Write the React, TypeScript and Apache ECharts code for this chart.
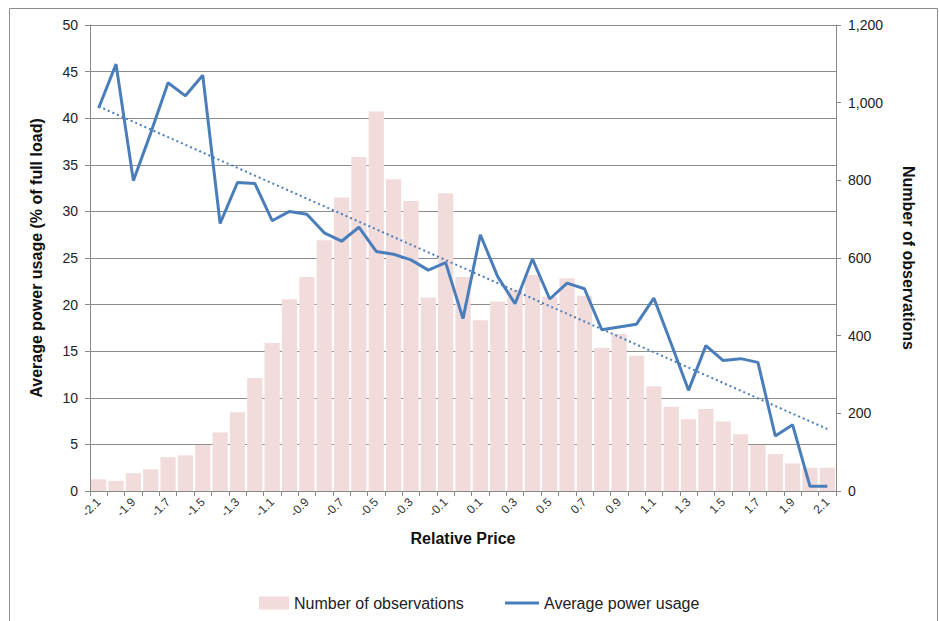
import React, { useEffect, useRef } from "react";
import * as echarts from "echarts";

const categories = [
  "-2.1", "-2.0", "-1.9", "-1.8", "-1.7", "-1.6", "-1.5", "-1.4", "-1.3", "-1.2", "-1.1",
  "-1.0", "-0.9", "-0.8", "-0.7", "-0.6", "-0.5", "-0.4", "-0.3", "-0.2", "-0.1",
  "0.0", "0.1", "0.2", "0.3", "0.4", "0.5", "0.6", "0.7", "0.8", "0.9",
  "1.0", "1.1", "1.2", "1.3", "1.4", "1.5", "1.6", "1.7", "1.8", "1.9", "2.0", "2.1",
];

const observations = [
  30, 26, 46, 56, 87, 92, 118, 151, 203, 291, 381,
  494, 551, 646, 756, 860, 977, 803, 747, 498, 767,
  551, 440, 488, 518, 556, 500, 548, 503, 369, 404,
  348, 270, 217, 185, 211, 179, 146, 118, 95, 71, 60, 60,
];

const powerUsage = [
  41.1, 45.8, 33.3, 38.4, 43.8, 42.4, 44.6, 28.7, 33.1, 33.0, 29.0,
  30.0, 29.7, 27.7, 26.8, 28.3, 25.7, 25.4, 24.8, 23.7, 24.5,
  18.5, 27.5, 23.0, 20.1, 24.9, 20.6, 22.3, 21.7, 17.3, 17.6,
  17.9, 20.7, 15.8, 10.8, 15.6, 14.0, 14.2, 13.8, 5.9, 7.1, 0.5, 0.5,
];

// Linear trendline (least squares), as Excel computes it
function linearTrend(values: number[]): number[] {
  const n = values.length;
  let sx = 0, sy = 0, sxy = 0, sxx = 0;
  values.forEach((v, i) => {
    const x = i + 1;
    sx += x; sy += v; sxy += x * v; sxx += x * x;
  });
  const b = (n * sxy - sx * sy) / (n * sxx - sx * sx);
  const a = (sy - b * sx) / n;
  return values.map((_, i) => +(a + b * (i + 1)).toFixed(3));
}

const FONT = "'Liberation Sans', 'Noto Sans', sans-serif";
const LINE_COLOR = "#4a7ebb";

export default function App() {
  const ref = useRef<HTMLDivElement>(null);
  useEffect(() => {
    document.body.style.margin = "0";
    const chart = echarts.init(ref.current!, null, { renderer: "svg" });
    const trend = linearTrend(powerUsage);
    const legendText = { fontSize: 16, color: "#222", fontFamily: FONT };
    chart.setOption({
      animation: false,
      backgroundColor: "#ffffff",
      textStyle: { fontFamily: FONT },
      graphic: [
        {
          type: "rect",
          shape: { x: 9.5, y: 8.5, width: 928, height: 620 },
          style: { fill: "none", stroke: "#8c8c8c", lineWidth: 1 },
          silent: true,
        },
      ],
      grid: { left: 90, right: 103, top: 25, bottom: 130, containLabel: false },
      legend: [
        {
          left: 254,
          top: 590,
          itemWidth: 30,
          itemHeight: 13,
          textStyle: legendText,
          data: [{ name: "Number of observations", icon: "rect" }],
        },
        {
          left: 500,
          top: 590,
          itemWidth: 34,
          itemHeight: 13,
          textStyle: legendText,
          data: [{ name: "Average power usage", icon: "path://M0,0 L34,0 L34,3 L0,3 Z" }],
        },
      ],
      xAxis: {
        type: "category",
        data: categories,
        name: "Relative Price",
        nameLocation: "middle",
        nameGap: 39,
        nameTextStyle: { fontSize: 16, fontWeight: "bold", color: "#111", fontFamily: FONT },
        axisLine: { lineStyle: { color: "#888", width: 1 } },
        axisTick: { show: true, interval: 0, length: 5, lineStyle: { color: "#888" } },
        axisLabel: {
          interval: 1,
          rotate: 45,
          fontSize: 12,
          color: "#333",
          margin: 9,
          fontFamily: FONT,
        },
      },
      yAxis: [
        {
          type: "value",
          min: 0,
          max: 50,
          interval: 5,
          name: "Average power usage (% of full load)",
          nameLocation: "middle",
          nameRotate: 90,
          nameGap: 46,
          nameTextStyle: { fontSize: 16, fontWeight: "bold", color: "#111", fontFamily: FONT },
          axisLine: { show: true, lineStyle: { color: "#888" } },
          axisTick: { show: true, length: 5, lineStyle: { color: "#888" } },
          axisLabel: { fontSize: 14, color: "#222", margin: 12, fontFamily: FONT },
          splitLine: { show: true, lineStyle: { color: "#8c8c8c", width: 1 } },
        },
        {
          type: "value",
          min: 0,
          max: 1200,
          interval: 200,
          name: "Number of observations",
          nameLocation: "middle",
          nameRotate: -90,
          nameGap: 64,
          nameTextStyle: { fontSize: 16, fontWeight: "bold", color: "#111", fontFamily: FONT },
          axisLine: { show: true, lineStyle: { color: "#888" } },
          axisTick: { show: true, length: 5, lineStyle: { color: "#888" } },
          axisLabel: {
            fontSize: 14,
            color: "#222",
            margin: 12,
            fontFamily: FONT,
            formatter: (v: number) => v.toLocaleString("en-US"),
          },
          splitLine: { show: false },
        },
      ],
      series: [
        {
          name: "Number of observations",
          type: "bar",
          yAxisIndex: 1,
          data: observations,
          barCategoryGap: "12%",
          itemStyle: { color: "#f2dcdb" },
          z: 1,
        },
        {
          name: "Average power usage",
          type: "line",
          yAxisIndex: 0,
          data: powerUsage,
          symbol: "none",
          lineStyle: { color: LINE_COLOR, width: 3 },
          itemStyle: { color: LINE_COLOR },
          z: 3,
        },
        {
          name: "Trend",
          type: "line",
          yAxisIndex: 0,
          data: trend,
          symbol: "none",
          lineStyle: { color: LINE_COLOR, width: 2, type: [2, 3] },
          z: 2,
        },
      ],
    });
    return () => chart.dispose();
  }, []);
  return <div ref={ref} style={{ width: 939, height: 621 }} />;
}
